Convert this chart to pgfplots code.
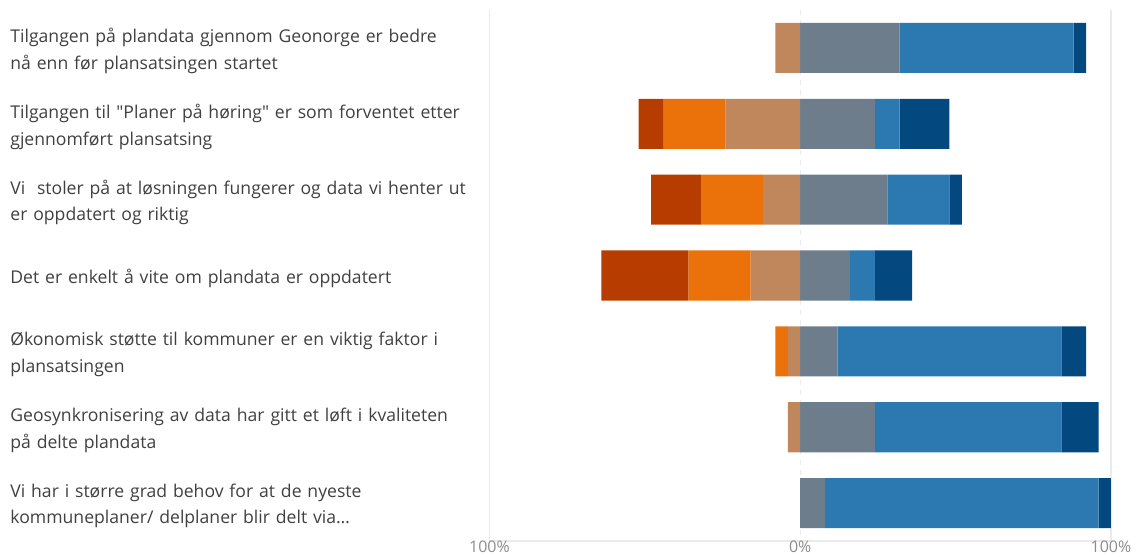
\documentclass[border=0pt]{standalone}
\usepackage{pgfplots}
\pgfplotsset{compat=1.18}
\usepackage{pgfplotstable}
\usepackage{fontspec}
\setmainfont{Open Sans}

\definecolor{cdr}{HTML}{B63C00}
\definecolor{cor}{HTML}{EB720B}
\definecolor{ctan}{HTML}{C0875D}
\definecolor{cgray}{HTML}{6E7D8C}
\definecolor{cblue}{HTML}{2B79B0}
\definecolor{cdblue}{HTML}{03497F}
\definecolor{labelgray}{HTML}{404040}
\definecolor{tickgray}{HTML}{8C8C8C}
\definecolor{gridgray}{HTML}{EBEBEB}

% share of answers in percent, off = left end of the bar
\pgfplotstableread{
y off dr or tan gray blue dblue
0 -8  0  0  8  32 56 4
1 -52 8  20 24 24 8  16
2 -48 16 20 12 28 20 4
3 -64 28 20 16 16 8  12
4 -8  0  4  4  12 72 8
5 -4  0  0  4  24 60 12
6 0   0  0  0  8  88 4
}\likert

\begin{document}
\begin{tikzpicture}
\useasboundingbox (0,0) rectangle (571pt,278.5pt);
\begin{axis}[
  at={(244.75pt,8pt)}, anchor=south west,
  scale only axis, width=310.75pt, height=265.5pt,
  xbar stacked, stack negative=on previous, bar width=0.66,
  xmin=-100, xmax=100, ymin=-0.5, ymax=6.5,
  y dir=reverse,
  axis x line*=bottom, axis y line*=left,
  x axis line style={draw=gridgray, line width=0.6pt},
  y axis line style={draw=none},
  major tick length=0pt, tick style={draw=none},
  xtick={-100,100}, xticklabels={100\%,100\%},
  extra x ticks={0}, extra x tick labels={0\%},
  xmajorgrids,
  grid style={draw=gridgray, line width=0.6pt},
  extra x tick style={grid style={draw=gridgray, line width=0.6pt, dash pattern=on 2.5pt off 2.5pt}},
  xticklabel style={font=\fontsize{8}{9}\selectfont, text=tickgray, inner sep=0.5pt, yshift=1pt},
  ytick={0,1,2,3,4,5,6},
  yticklabels={
    {Tilgangen på plandata gjennom Geonorge er bedre\\nå enn før plansatsingen startet},
    {Tilgangen til \textquotedbl Planer på høring\textquotedbl{} er som forventet etter\\gjennomført plansatsing},
    {Vi\ \ stoler på at løsningen fungerer og data vi henter ut\\er oppdatert og riktig},
    {Det er enkelt å vite om plandata er oppdatert},
    {Økonomisk støtte til kommuner er en viktig faktor i\\plansatsingen},
    {Geosynkronisering av data har gitt et løft i kvaliteten\\på delte plandata},
    {Vi har i større grad behov for at de nyeste\\kommuneplaner/ delplaner blir delt via\ldots}
  },
  yticklabel style={anchor=west, align=left, text width=236pt, inner sep=0pt,
    xshift=-239.75pt, yshift=-1.5pt, text=labelgray, font=\fontsize{8.8}{13.2}\selectfont},
  clip=false,
]
\addplot[draw=none, fill=none] table[x=off, y=y] {\likert};
\addplot[draw=none, fill=cdr] table[x=dr, y=y] {\likert};
\addplot[draw=none, fill=cor] table[x=or, y=y] {\likert};
\addplot[draw=none, fill=ctan] table[x=tan, y=y] {\likert};
\addplot[draw=none, fill=cgray] table[x=gray, y=y] {\likert};
\addplot[draw=none, fill=cblue] table[x=blue, y=y] {\likert};
\addplot[draw=none, fill=cdblue] table[x=dblue, y=y] {\likert};
\end{axis}
\end{tikzpicture}
\end{document}
